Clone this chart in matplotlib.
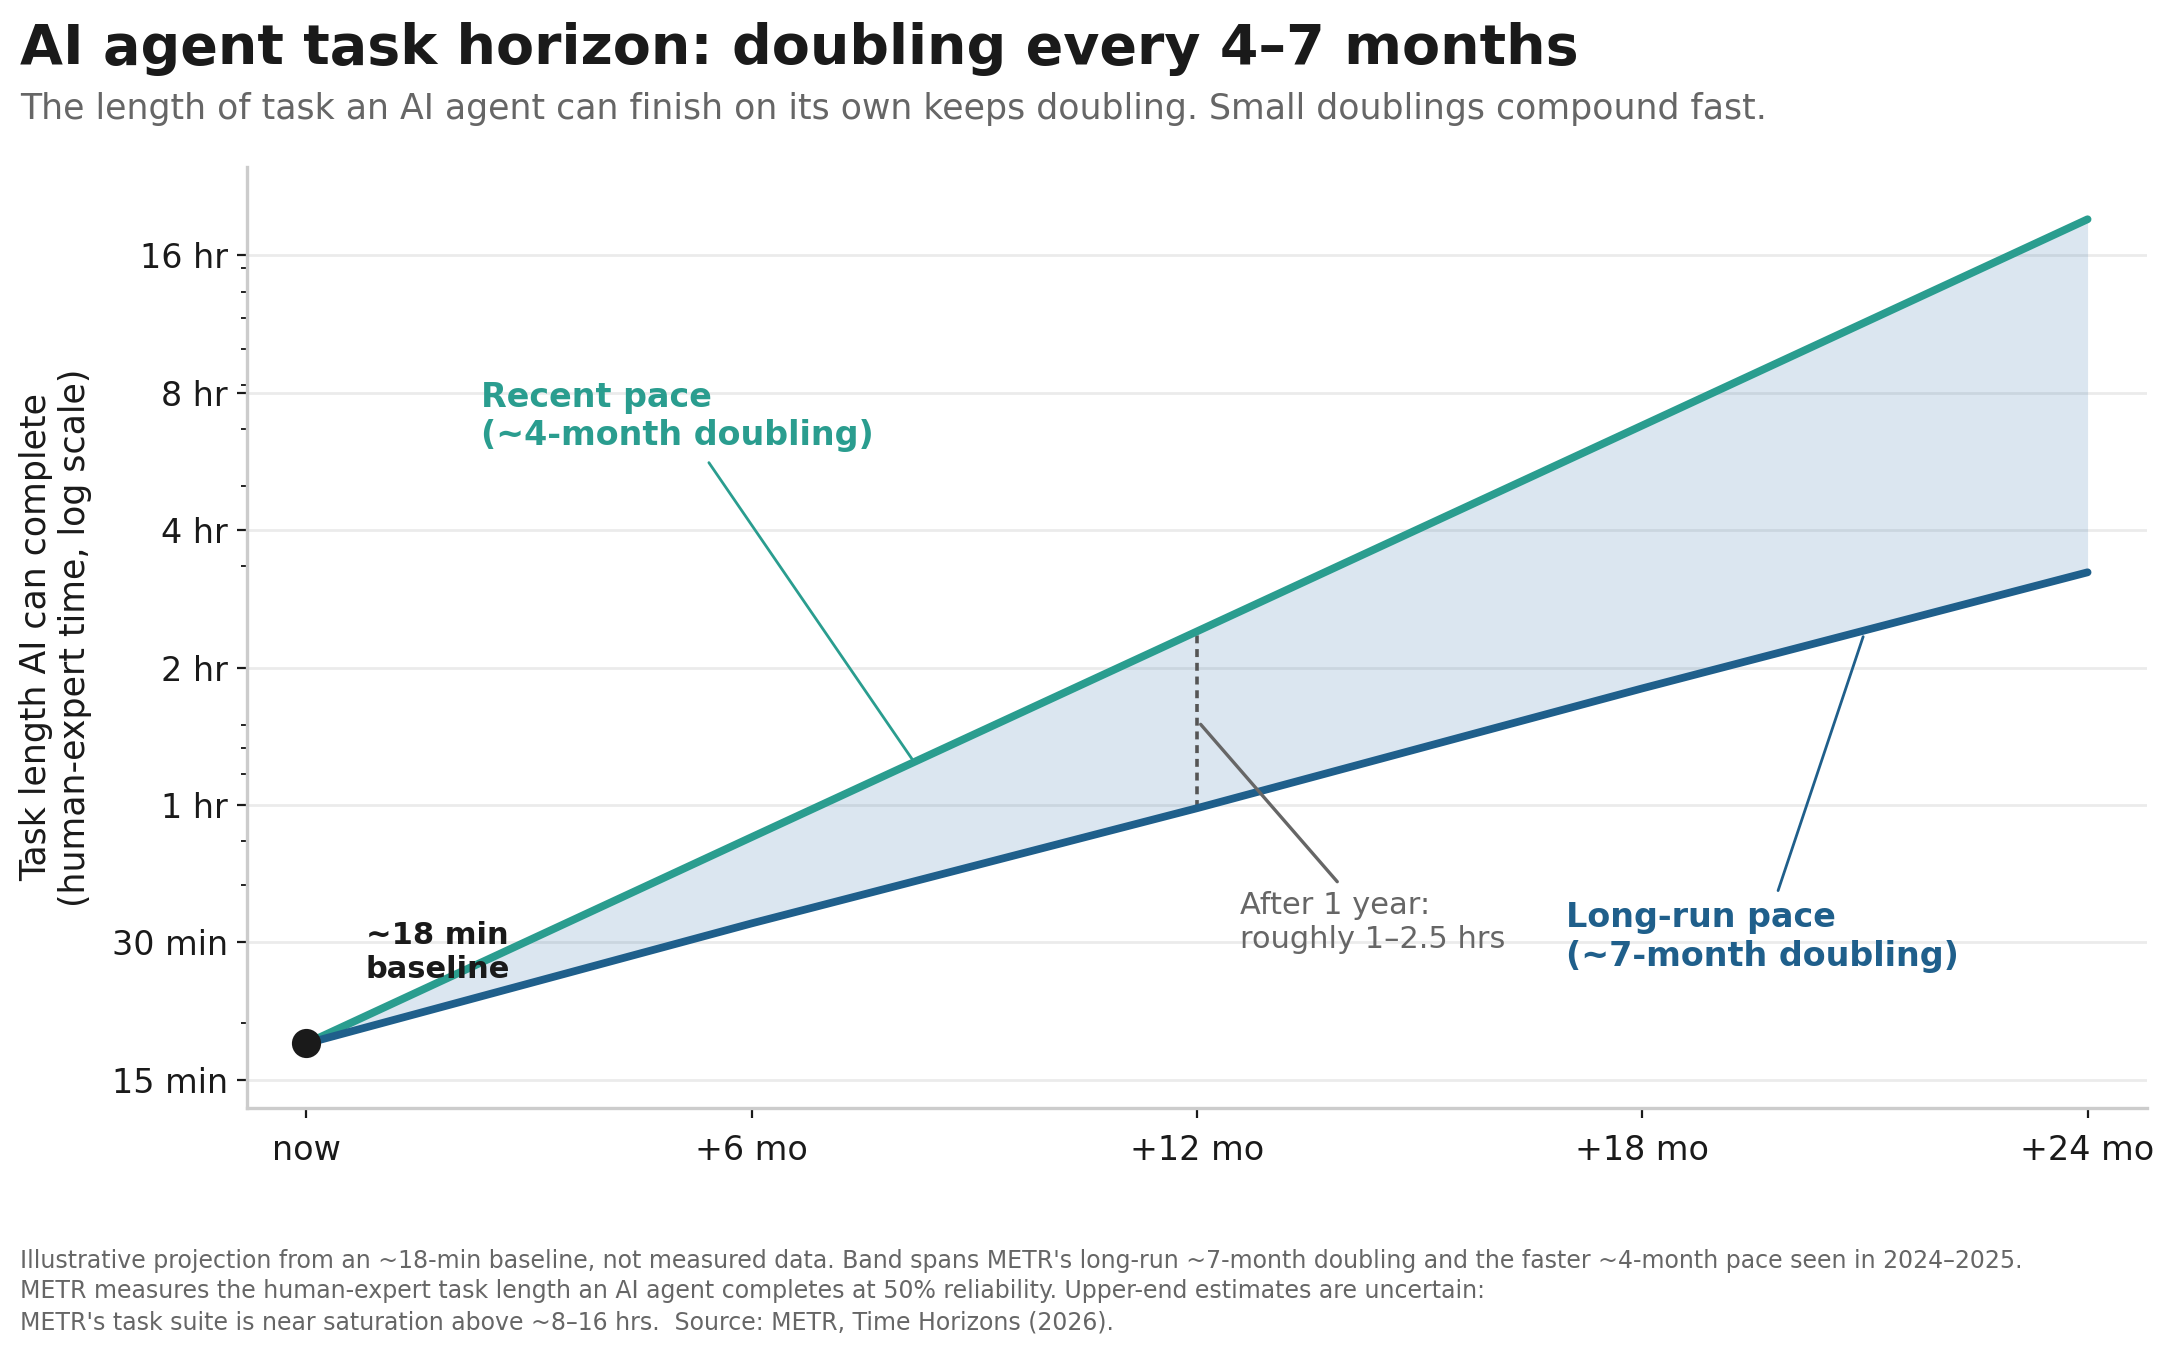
import matplotlib
matplotlib.use("Agg")
import matplotlib.pyplot as plt
from matplotlib.ticker import FixedLocator, LogLocator, NullFormatter
import numpy as np

# data (task length in minutes)
months = [0, 6, 12, 18, 24]
fast_min = [18, 51, 144, 407, 1152]    # ~4-month doubling
slow_min = [18, 33, 59, 108, 194]      # ~7-month doubling
baseline_min = 18

x_ticks = [0, 6, 12, 18, 24]
x_labels = ['now', '+6 mo', '+12 mo', '+18 mo', '+24 mo']
y_ticks = [15, 30, 60, 120, 240, 480, 960]
y_labels = ['15 min', '30 min', '1 hr', '2 hr', '4 hr', '8 hr', '16 hr']

TEAL = '#2a9d8f'
BLUE = '#1f5f8b'
GREY = '#666666'
INK = '#1a1a1a'

fig = plt.figure(figsize=(10.875, 6.765), dpi=200)
ax = fig.add_axes([0.1136, 0.1811, 0.8735, 0.6955])

ax.set_yscale('log')
ax.fill_between(months, slow_min, fast_min, color='#2b6fa8', alpha=0.17, lw=0, zorder=1)
ax.plot(months, fast_min, color=TEAL, lw=2.8, solid_capstyle='round', zorder=3)
ax.plot(months, slow_min, color=BLUE, lw=2.8, solid_capstyle='round', zorder=3)
ax.plot([0], [baseline_min], 'o', color=INK, ms=9.5, zorder=5)

# one-year gap marker
ax.plot([12, 12], [slow_min[2], fast_min[2]], color='#555555', lw=1.3,
        linestyle=(0, (2.2, 1.6)), zorder=2)

ax.set_xlim(-0.8, 24.8)
ax.set_ylim(13, 1500)
ax.xaxis.set_major_locator(FixedLocator(x_ticks))
ax.set_xticklabels(x_labels)
ax.yaxis.set_major_locator(FixedLocator(y_ticks))
ax.set_yticklabels(y_labels)
ax.yaxis.set_minor_locator(LogLocator(base=10, subs=np.arange(2, 10)))
ax.yaxis.set_minor_formatter(NullFormatter())
ax.tick_params(axis='both', which='major', labelsize=12, colors=INK)
ax.tick_params(axis='x', which='major', pad=6)

ax.grid(axis='y', which='major', color='#ebebeb', lw=1, zorder=0)
ax.set_axisbelow(True)
for s in ['top', 'right']:
    ax.spines[s].set_visible(False)
for s in ['left', 'bottom']:
    ax.spines[s].set_color('#cccccc')
    ax.spines[s].set_linewidth(1.2)

ax.set_ylabel('Task length AI can complete\n(human-expert time, log scale)',
              fontsize=12.5, color=INK, labelpad=7)

# annotations
ax.annotate('Recent pace\n(~4-month doubling)', xy=(8.2, 74), xytext=(5.0, 425),
            ha='center', va='center', multialignment='left',
            fontsize=12, fontweight='bold', color=TEAL,
            arrowprops=dict(arrowstyle='-', color=TEAL, lw=1))
ax.annotate('Long-run pace\n(~7-month doubling)', xy=(21.0, 144), xytext=(19.62, 30.8),
            ha='center', va='center', multialignment='left',
            fontsize=12, fontweight='bold', color=BLUE,
            arrowprops=dict(arrowstyle='-', color=BLUE, lw=1))
ax.annotate('After 1 year:\nroughly 1–2.5 hrs', xy=(12, 92), xytext=(14.37, 33.1),
            ha='center', va='center', multialignment='left',
            fontsize=11, color=GREY,
            arrowprops=dict(arrowstyle='-', color=GREY, lw=1.2))
ax.text(0.8, 28.5, '~18 min\nbaseline', ha='left', va='center',
        fontsize=11, fontweight='bold', color=INK)

fig.text(0.0092, 0.9527, 'AI agent task horizon: doubling every 4–7 months',
         fontsize=20, fontweight='bold', color=INK, va='baseline')
fig.text(0.0092, 0.9124, 'The length of task an AI agent can finish on its own keeps doubling. '
         'Small doublings compound fast.', fontsize=12.5, color=GREY, va='baseline')
fig.text(0.0092, 0.0177,
         "Illustrative projection from an ~18-min baseline, not measured data. Band spans METR's "
         "long-run ~7-month doubling and the faster ~4-month pace seen in 2024–2025.\n"
         "METR measures the human-expert task length an AI agent completes at 50% reliability. "
         "Upper-end estimates are uncertain:\n"
         "METR's task suite is near saturation above ~8–16 hrs.  Source: METR, Time Horizons (2026).",
         fontsize=8.5, color=GREY, va='baseline', linespacing=1.35)

fig.savefig('out.png', dpi=200)
